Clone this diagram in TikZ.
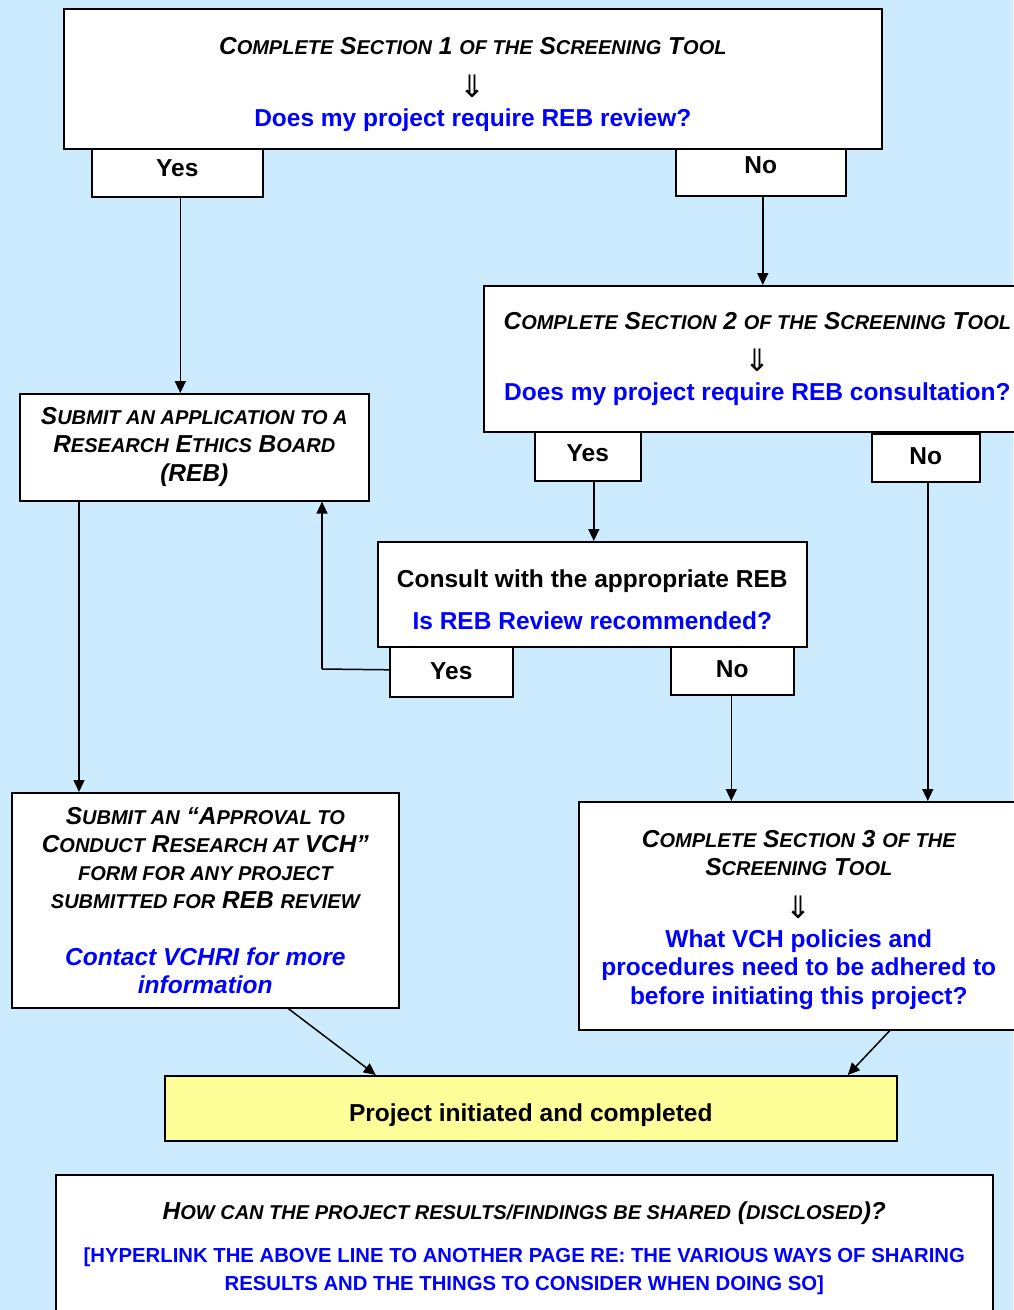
\documentclass[tikz,border=0pt]{standalone}
\usepackage{fontspec}
\setmainfont{Liberation Sans}
\newfontfamily\dejavu{DejaVu Sans}
\usetikzlibrary{arrows.meta}
\definecolor{bg}{RGB}{204,235,255}
\definecolor{qblue}{RGB}{0,0,255}
\definecolor{pyellow}{RGB}{255,255,153}
\newcommand{\sml}[1]{{\fontsize{20}{24}\selectfont #1}}
\newcommand{\dnarr}{{\dejavu\mdseries\upshape\vphantom{⇓}\smash{\raisebox{-2.5pt}{\fontsize{31}{36}\selectfont ⇓}}}}
\newcommand{\topstrut}[1]{\rule{0pt}{#1}}
\begin{document}
\begin{tikzpicture}[x=1pt,y=-1pt,
  box/.style={draw, line width=1.6pt, fill=white, inner sep=0pt, align=center,
    anchor=north west, font=\fontsize{24.5}{29}\selectfont\bfseries},
  lbl/.style={box},
  conn/.style={line width=1.5pt, -{Triangle[length=12pt,width=11pt]}},
  plain/.style={line width=1.5pt}
]
\fill[bg] (0,0) rectangle (1013,1310);
\useasboundingbox (0,0) rectangle (1013,1310);

% top box
\node[box, minimum width=818pt, minimum height=140pt] (top) at (63,8)
 {\topstrut{27.5pt}\itshape C\sml{OMPLETE} S\sml{ECTION} 1 \sml{OF THE} S\sml{CREENING} T\sml{OOL}\\[12pt]
  \dnarr\\[2pt]
  \color{qblue}Does my project require REB review?};
\node[lbl, minimum width=171pt, minimum height=48pt] (yes1) at (91,148) {\raisebox{10pt}{Yes}};
\node[lbl, minimum width=170pt, minimum height=47pt] (no1) at (675,148) {\raisebox{14pt}{No}};

% section 2
\node[box, minimum width=547pt, minimum height=146pt] (sec2) at (483,285)
 {\itshape C\sml{OMPLETE} S\sml{ECTION} 2 \sml{OF THE} S\sml{CREENING} T\sml{OOL}\\[11pt]
  \dnarr\\[2pt]
  \color{qblue}Does my project require REB consultation?};
\node[lbl, minimum width=106pt, minimum height=49pt] (yes2) at (534,431) {\raisebox{6pt}{Yes}};
\node[lbl, minimum width=108pt, minimum height=48pt] (no2) at (871,433) {\raisebox{4pt}{No}};

% submit REB
\node[box, minimum width=349pt, minimum height=107pt] (submit) at (19,393)
 {\itshape S\sml{UBMIT AN APPLICATION TO A}\\[-1pt]
  \itshape R\sml{ESEARCH} E\sml{THICS} B\sml{OARD}\\
  \itshape (REB)};

% consult
\node[box, minimum width=429pt, minimum height=105pt] (consult) at (377,541)
 {\topstrut{28pt}Consult with the appropriate REB\\[13pt]\color{qblue}Is REB Review recommended?};
\node[lbl, minimum width=123pt, minimum height=50pt] (yes3) at (389,646) {\raisebox{2pt}{Yes}};
\node[lbl, minimum width=123pt, minimum height=48pt] (no3) at (670,646) {\raisebox{4pt}{No}};

% approval
\node[box, minimum width=387pt, minimum height=215pt] (approval) at (11,792)
 {\itshape S\sml{UBMIT AN} ``A\sml{PPROVAL TO}\\[-1pt]
  \itshape C\sml{ONDUCT} R\sml{ESEARCH AT} VCH''\\[-1pt]
  \itshape\sml{FORM FOR ANY PROJECT}\\[-1pt]
  \itshape\sml{SUBMITTED FOR} REB \sml{REVIEW}\\[28pt]
  \itshape\color{qblue}Contact VCHRI for more\\[-1pt]
  \itshape\color{qblue}information};

% section 3
\node[box, minimum width=440pt, minimum height=228pt] (sec3) at (578,801)
 {\topstrut{26.5pt}\itshape C\sml{OMPLETE} S\sml{ECTION} 3 \sml{OF THE}\\[-1pt]
  \itshape S\sml{CREENING} T\sml{OOL}\\[11pt]
  \dnarr\\[3pt]
  \color{qblue}What VCH policies and\\[-1pt]
  \color{qblue}procedures need to be adhered to\\
  \color{qblue}before initiating this project?};

% project
\node[box, fill=pyellow, minimum width=732pt, minimum height=65pt] (proj) at (164,1075)
 {\topstrut{32pt}Project initiated and completed};

% bottom
\node[box, minimum width=937pt, minimum height=140pt] (share) at (55,1174)
 {\topstrut{25.5pt}\itshape H\sml{OW CAN THE PROJECT RESULTS/FINDINGS BE SHARED} (\sml{DISCLOSED})?\\[14pt]
  \color{qblue}\fontsize{20.3}{24}\selectfont [HYPERLINK THE ABOVE LINE TO ANOTHER PAGE RE: THE VARIOUS WAYS OF SHARING\\[-1pt]
  \color{qblue}\fontsize{20.3}{24}\selectfont RESULTS AND THE THINGS TO CONSIDER WHEN DOING SO]};

% connectors
\draw[conn] ([xshift=3pt]yes1.south) -- ([xshift=3pt]yes1.south |- submit.north);
\draw[conn] ([xshift=2pt]no1.south) -- ([xshift=2pt]no1.south |- sec2.north);
\draw[conn] ([xshift=6pt]yes2.south) -- ([xshift=6pt]yes2.south |- consult.north);
\coordinate (bend) at (322,669);
\draw[plain] ([yshift=2pt]yes3.west) -- (bend);
\draw[conn] (bend) -- (bend |- submit.south);
\draw[conn] ([xshift=-1pt]no3.south) -- ([xshift=-1pt]no3.south |- sec3.north);
\draw[conn] ([xshift=2pt]no2.south) -- ([xshift=2pt]no2.south |- sec3.north);
\draw[conn] ([xshift=60pt]submit.south west) -- ([xshift=60pt]submit.south west |- approval.north);
\draw[conn] ([xshift=83pt]approval.south) -- ([xshift=-155pt]proj.north);
\draw[conn] ([xshift=91pt]sec3.south) -- ([xshift=317pt]proj.north);
\end{tikzpicture}
\end{document}
